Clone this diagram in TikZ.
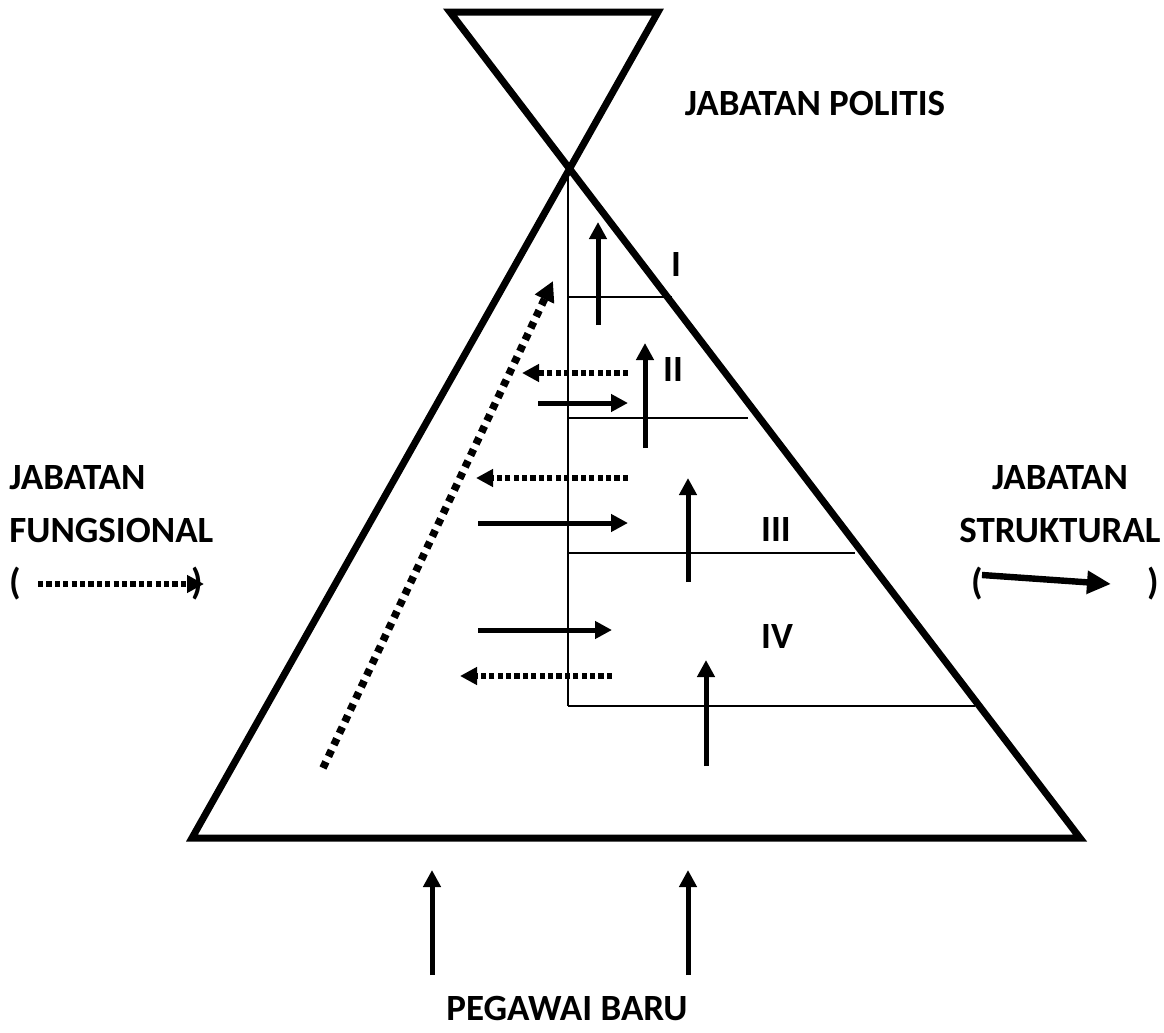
\documentclass[tikz,border=0pt]{standalone}
\usepackage{fontspec}
\setmainfont{Carlito}
\usetikzlibrary{arrows.meta}

\begin{document}
\begin{tikzpicture}[
  x=0.5pt, y=-0.5pt,
  every node/.style={font=\fontsize{18.5}{22}\selectfont\bfseries, inner sep=0pt},
  frame/.style={line width=3.5pt, line join=miter},
  level/.style={line width=1pt},
  move/.style={-{Triangle[length=8.5pt,width=8.5pt]}, line width=2.5pt},
  sidemove/.style={-{Triangle[length=8.5pt,width=8.5pt]}, line width=2.8pt, dash pattern=on 2.6pt off 1.6pt},
  climb/.style={-{Triangle[length=10pt,width=10pt]}, line width=3.8pt, dash pattern=on 3.4pt off 3pt}
]
\useasboundingbox (0,0) rectangle (1164,1033);

% hourglass frame
\coordinate (tl) at (450,12);
\coordinate (tr) at (658,12);
\coordinate (bl) at (192,838);
\coordinate (br) at (1080,838);
\draw[frame] (tl) -- (tr) -- (bl) -- (br) -- cycle;

% levels
\coordinate (apex) at (568,170);
\coordinate (foot) at (568,706);
\draw[level] (apex) -- (foot);
\draw[level] (568,297) -- (672,297);
\draw[level] (568,418) -- (748,418);
\draw[level] (568,553) -- (855,553);
\draw[level] (foot) -- (975,706);

\node (lvI)   at (676,265) {I};
\node (lvII)  at (673,370) {II};
\node (lvIII) at (776,530) {III};
\node (lvIV)  at (777,637) {IV};

% promotions
\draw[move] (598,325) -- (598,222);
\draw[move] (645,448) -- (645,343);
\draw[move] (688,582) -- (688,478);
\draw[move] (706,766) -- (706,660);

% struktural moves
\draw[move] (538,403) -- (628,403);
\draw[move] (478,523) -- (628,523);
\draw[move] (478,630) -- (612,630);

% fungsional moves
\draw[sidemove] (628,373) -- (522,373);
\draw[sidemove] (628,478) -- (476,478);
\draw[sidemove] (612,676) -- (460,676);
\draw[climb] (323,768) -- (553,281);

% new staff
\coordinate (in1) at (432,975);
\coordinate (in2) at (688,975);
\draw[move] (in1) -- (432,870);
\draw[move] (in2) -- (688,870);
\node (baru) at (567,1008) {PEGAWAI BARU};

\node (politis) at (815,103) {JABATAN POLITIS};

% legend left
\node[anchor=west] (fj) at (9,478) {JABATAN};
\node[anchor=west] (ff) at (9,531) {FUNGSIONAL};
\node (fo) at (15,584) {(};
\node (fc) at (197,584) {)};
\draw[sidemove] (38,584) -- (204,584);

% legend right
\node (sj) at (1060,478) {JABATAN};
\node (ss) at (1060,531) {STRUKTURAL};
\node (so) at (977,584) {(};
\node (sc) at (1153,584) {)};
\draw[move, line width=3.2pt, -{Triangle[length=12pt,width=11pt]}] (982,575) -- (1111,584);
\end{tikzpicture}
\end{document}
